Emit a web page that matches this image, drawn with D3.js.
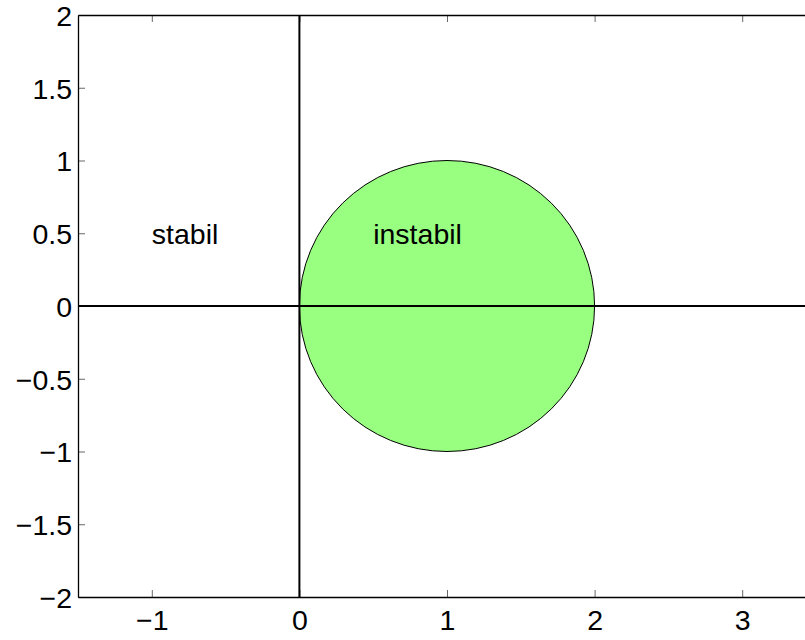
<!DOCTYPE html>
<html>
<head>
<meta charset="utf-8">
<script src="https://cdn.jsdelivr.net/npm/d3@7"></script>
<style>
  html, body { margin: 0; padding: 0; background: #fff; overflow: hidden; }
  svg { display: block; }
  text { font-family: "Liberation Sans", Arial, Helvetica, sans-serif; }
</style>
</head>
<body>
<svg id="chart" width="805" height="640"></svg>
<script>
// Axis ranges and ticks
const xDomain = [-1.5, 3.5];
const yDomain = [-2, 2];
const xTicks = [-1, 0, 1, 2, 3];
const yTicks = [-2, -1.5, -1, -0.5, 0, 0.5, 1, 1.5, 2];

// Circle (center, radius) marking the unstable region
const circleCenter = [1, 0];
const circleRadius = 1;

// Region labels
const labelTexts = ["stabil", "instabil"];
const labelX = [-1, 0.5];
const labelY = [0.5, 0.5];

const svg = d3.select("#chart");
const margin = { left: 78, top: 15, right: -11, bottom: 43 };
const W = 805, H = 640;
const fontSize = 28.5;

const x = d3.scaleLinear().domain(xDomain).range([margin.left, W - margin.right]);
const y = d3.scaleLinear().domain(yDomain).range([H - margin.bottom, margin.top]);

const fmt = v => (v < 0 ? "\u2212" + Math.abs(v) : String(v));

// Filled circle
svg.append("ellipse")
  .attr("cx", x(circleCenter[0]))
  .attr("cy", y(circleCenter[1]))
  .attr("rx", x(circleCenter[0] + circleRadius) - x(circleCenter[0]))
  .attr("ry", y(circleCenter[1] - circleRadius) - y(circleCenter[1]))
  .attr("fill", "rgb(153,255,128)")
  .attr("stroke", "#000")
  .attr("stroke-width", 1);

// Coordinate axes through the origin
svg.append("line")
  .attr("x1", x(xDomain[0])).attr("x2", x(xDomain[1]))
  .attr("y1", y(0)).attr("y2", y(0))
  .attr("stroke", "#000").attr("stroke-width", 2);
svg.append("line")
  .attr("x1", x(0)).attr("x2", x(0))
  .attr("y1", y(yDomain[0])).attr("y2", y(yDomain[1]))
  .attr("stroke", "#000").attr("stroke-width", 2);

// Axes with inward ticks
const tickLen = 7;
const axBottom = svg.append("g").attr("transform", `translate(0,${y(yDomain[0])})`)
  .call(d3.axisBottom(x).tickValues(xTicks).tickFormat(fmt).tickSizeInner(-tickLen).tickSizeOuter(0).tickPadding(13));
const axTop = svg.append("g").attr("transform", `translate(0,${y(yDomain[1])})`)
  .call(d3.axisTop(x).tickValues(xTicks).tickFormat("").tickSizeInner(-tickLen).tickSizeOuter(0));
const axLeft = svg.append("g").attr("transform", `translate(${x(xDomain[0])},0)`)
  .call(d3.axisLeft(y).tickValues(yTicks).tickFormat(fmt).tickSizeInner(-tickLen).tickSizeOuter(0).tickPadding(6));
const axRight = svg.append("g").attr("transform", `translate(${x(xDomain[1])},0)`)
  .call(d3.axisRight(y).tickValues(yTicks).tickFormat("").tickSizeInner(-tickLen).tickSizeOuter(0));

[axBottom, axTop, axLeft, axRight].forEach(g => {
  g.select(".domain").attr("stroke", "#000").attr("stroke-width", 1.3);
  g.selectAll(".tick line").attr("stroke", "#000").attr("stroke-width", 0.6);
  g.selectAll(".tick text").attr("fill", "#000").attr("font-size", fontSize)
    .attr("font-family", "'Liberation Sans', Arial, sans-serif");
});
axBottom.selectAll(".tick text").attr("dy", "0.71em");
axLeft.selectAll(".tick text").attr("dy", "0.36em");

// Region labels
svg.selectAll("text.region")
  .data(labelTexts)
  .join("text")
  .attr("class", "region")
  .attr("x", (d, i) => x(labelX[i]))
  .attr("y", (d, i) => y(labelY[i]))
  .attr("dy", "0.36em")
  .attr("font-size", fontSize)
  .attr("fill", "#000")
  .text(d => d);
</script>
</body>
</html>
